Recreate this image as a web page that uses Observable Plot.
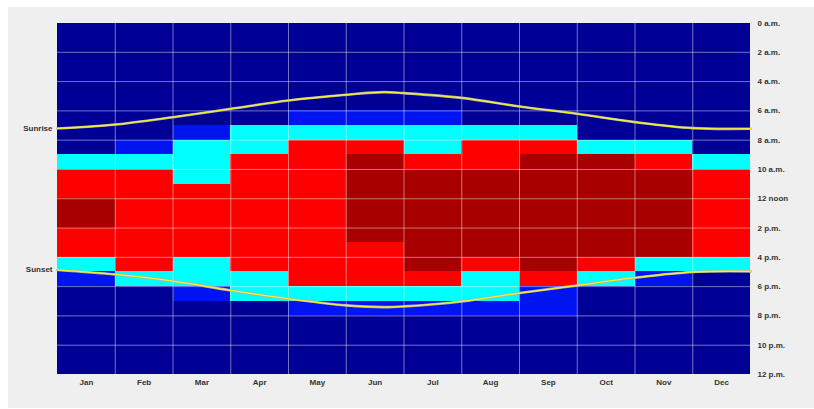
<!DOCTYPE html>
<html><head><meta charset="utf-8">
<script src="https://cdn.jsdelivr.net/npm/d3@7"></script>
<script src="https://cdn.jsdelivr.net/npm/@observablehq/plot@0.6"></script>
<style>
html,body{margin:0;padding:0;background:#fff;}
body{width:814px;height:409px;overflow:hidden;position:relative;}
#chart{position:absolute;left:8px;top:7px;}
</style></head><body><div id="chart"></div>
<script>
const months = ["Jan","Feb","Mar","Apr","May","Jun","Jul","Aug","Sep","Oct","Nov","Dec"];
const hourTicks = [0,2,4,6,8,10,12,14,16,18,20,22,24];
const hourLabels = ["0 a.m.","2 a.m.","4 a.m.","6 a.m.","8 a.m.","10 a.m.","12 noon","2 p.m.","4 p.m.","6 p.m.","8 p.m.","10 p.m.","12 p.m."];
const categories = ["D","B","C","R","M"];
const categoryColors = ["#000096","#0014f0","#00ffff","#ff0000","#a80000"];
// one string per month, one character per hour (0..23)
const hourlyCategories = [
  "DDDDDDDDDCRRMMRRCBDDDDDD",
  "DDDDDDDDBCRRRRRRRCDDDDDD",
  "DDDDDDDBCCCRRRRRCCBDDDDD",
  "DDDDDDDCCRRRRRRRRCCDDDDD",
  "DDDDDDBCRRRRRRRRRRCBDDDD",
  "DDDDDDBCRMMMMMMRRRCBDDDD",
  "DDDDDDBCCRMMMMMMMRCBDDDD",
  "DDDDDDDCRRMMMMMMRCCBDDDD",
  "DDDDDDDCRMMMMMMMMRBBDDDD",
  "DDDDDDDDCMMMMMMMRCDDDDDD",
  "DDDDDDDDCRMMMMMMCBDDDDDD",
  "DDDDDDDDDCRRRRRRCDDDDDDD"
];
const sunMonth = [0,1,2,3,4,5,5.65,6,7,8,9,10,11,12];
const sunrise = [7.20,6.93,6.43,5.86,5.29,4.90,4.72,4.79,5.11,5.70,6.20,6.77,7.18,7.22];
const sunset = [16.86,17.17,17.62,18.26,18.83,19.28,19.40,19.35,19.01,18.44,17.92,17.39,17.00,16.96];
const sideLabels = ["Sunrise","Sunset"];

const cells = [];
hourlyCategories.forEach((s, m) => { for (let h = 0; h < 24; h++) cells.push({m, h, cat: s[h]}); });
const sunData = sunMonth.map((m, i) => ({m, rise: sunrise[i], set: sunset[i]}));
const sideData = sideLabels.map((t, i) => ({t, y: i === 0 ? sunrise[0] : sunset[0]}));

const gridStyle = {stroke: "white", strokeOpacity: 0.45, strokeWidth: 1};
const plot = Plot.plot({
  width: 806, height: 401,
  marginLeft: 49, marginRight: 64, marginTop: 15.5, marginBottom: 34,
  style: {background: "#efefef", fontFamily: "'Liberation Sans', Arial, sans-serif", fontSize: "8px", fontWeight: "bold", color: "#333", overflow: "visible"},
  x: {domain: [0, 12], axis: null},
  y: {domain: [0, 24], reverse: true, axis: null},
  color: {type: "ordinal", domain: categories, range: categoryColors},
  marks: [
    Plot.rect(cells, {x1: "m", x2: d => d.m + 1, y1: "h", y2: d => d.h + 1, fill: "cat", shapeRendering: "crispEdges"}),
    Plot.gridX(d3.range(1, 12), gridStyle),
    Plot.gridY(d3.range(2, 24, 2), gridStyle),
    Plot.line(sunData, {x: "m", y: "rise", curve: "catmull-rom", stroke: "#b0b0a8", strokeWidth: 2.6}),
    Plot.line(sunData, {x: "m", y: "rise", curve: "catmull-rom", stroke: "#f6f030", strokeWidth: 1.3}),
    Plot.line(sunData, {x: "m", y: "set", curve: "catmull-rom", stroke: "#b0b0a8", strokeWidth: 2.6}),
    Plot.line(sunData, {x: "m", y: "set", curve: "catmull-rom", stroke: "#f6f030", strokeWidth: 1.3}),
    Plot.axisX(months.map((d, i) => i + 0.5), {anchor: "bottom", tickSize: 0, tickPadding: 5, tickFormat: d => months[Math.floor(d)], label: null}),
    Plot.axisY(hourTicks, {anchor: "right", tickSize: 0, tickPadding: 7, tickFormat: d => hourLabels[hourTicks.indexOf(d)], label: null}),
    Plot.text(sideData, {x: () => 0, y: "y", text: "t", textAnchor: "end", dx: -5, fill: "#333"})
  ]
});
document.getElementById("chart").appendChild(plot);
</script></body></html>
